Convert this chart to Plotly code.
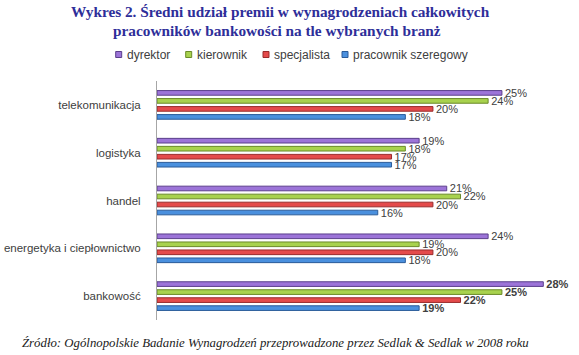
import plotly.graph_objects as go

categories = ["bankowość", "energetyka i ciepłownictwo", "handel", "logistyka", "telekomunikacja"]
series_names = ["dyrektor", "kierownik", "specjalista", "pracownik szeregowy"]
dyrektor = [28, 24, 21, 19, 25]
kierownik = [25, 19, 22, 18, 24]
specjalista = [22, 20, 20, 17, 20]
pracownik = [19, 18, 16, 17, 18]

values = [dyrektor, kierownik, specjalista, pracownik]
colors = ["#9C74D8", "#A8D24E", "#E44B4B", "#4A90DE"]
edge = ["#5B3F8C", "#6A8A28", "#992B2B", "#2A5B99"]

W, H = 579, 355
L, R, T, B = 157, 15, 81, 35
pw = W - L - R
ph = H - T - B


def px(x):
    return (x - L) / pw


def py(y):
    return (T + ph - y) / ph


fig = go.Figure()
# added in reverse so that dyrektor sits at the top of each group
for i in range(3, -1, -1):
    vals = values[i]
    texts = [("\u00a0<b>%d%%</b>" % v) if c == "bankowość" else ("\u00a0%d%%" % v)
             for v, c in zip(vals, categories)]
    fig.add_trace(go.Bar(
        y=categories, x=vals, orientation="h", name=series_names[i],
        marker=dict(color=colors[i], line=dict(color=edge[i], width=1)),
        text=texts, textposition="outside", cliponaxis=False, constraintext="none",
        textfont=dict(family="Liberation Sans", size=11, color="#404040"),
        showlegend=False,
    ))

annotations = [
    dict(text="Wykres 2. Średni udział premii w wynagrodzeniach całkowitych",
         x=px(280), y=py(11), xanchor="center", yanchor="middle"),
    dict(text="pracowników bankowości na tle wybranych branż",
         x=px(277), y=py(30), xanchor="center", yanchor="middle"),
]
for a in annotations:
    a.update(xref="paper", yref="paper", showarrow=False,
             font=dict(family="Liberation Serif", size=15.3, color="#2E2E99", weight="bold"))

# legend (manual, to match the compact spacing of the original)
leg_sq_x = [115.7, 185.7, 263, 342]
leg_y = 54.5
shapes = []
for i, name in enumerate(series_names):
    x0 = leg_sq_x[i]
    shapes.append(dict(type="rect", xref="paper", yref="paper",
                       x0=px(x0), x1=px(x0 + 6), y0=py(leg_y + 3), y1=py(leg_y - 3),
                       fillcolor=colors[i], line=dict(color=edge[i], width=1)))
    annotations.append(dict(text=name, xref="paper", yref="paper", showarrow=False,
                            x=px(x0 + 9), y=py(leg_y), xanchor="left", yanchor="middle",
                            font=dict(family="Liberation Sans", size=12, color="#404040")))

annotations.append(dict(
    text="Źródło: Ogólnopolskie Badanie Wynagrodzeń przeprowadzone przez Sedlak & Sedlak w 2008 roku",
    xref="paper", yref="paper", x=px(275.7), xanchor="center", y=py(343), yanchor="middle",
    showarrow=False,
    font=dict(family="Liberation Serif", size=12.8, color="#1A1A1A", style="italic"),
))

fig.update_layout(
    width=W, height=H,
    paper_bgcolor="white", plot_bgcolor="white",
    margin=dict(l=L, r=R, t=T, b=B, autoexpand=False),
    barmode="group", bargap=0.33, bargroupgap=0.42,
    showlegend=False,
    xaxis=dict(range=[0, 29.5], showgrid=False, showticklabels=False, zeroline=False,
               showline=False, ticks=""),
    yaxis=dict(showgrid=False, showline=True, linecolor="#A6A6A6", linewidth=1,
               ticks="", ticklabelstandoff=13,
               tickfont=dict(family="Liberation Sans", size=11.5, color="#404040")),
    annotations=annotations,
    shapes=shapes,
)

fig.write_html("out.html", config={"displayModeBar": False},
               post_script="document.body.style.margin='0';")
